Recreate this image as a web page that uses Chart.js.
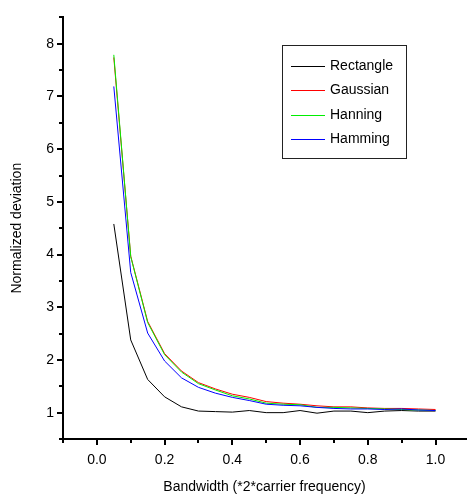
<!DOCTYPE html>
<html>
<head>
<meta charset="utf-8">
<script src="https://cdn.jsdelivr.net/npm/chart.js@4.4.1/dist/chart.umd.min.js"></script>
<style>
html, body { margin: 0; padding: 0; background: #fff; }
</style>
</head>
<body>
<canvas id="lineChart" width="467" height="504"></canvas>
<script>
// data
var bandwidth = [0.05, 0.10, 0.15, 0.20, 0.25, 0.30, 0.35, 0.40, 0.45, 0.50,
                 0.55, 0.60, 0.65, 0.70, 0.75, 0.80, 0.85, 0.90, 0.95, 1.00];
var rectangle = [4.58, 2.38, 1.63, 1.30, 1.11, 1.03, 1.02, 1.01, 1.04, 1.00,
                 1.00, 1.04, 0.99, 1.03, 1.03, 1.00, 1.03, 1.04, 1.03, 1.03];
var gaussian  = [7.74, 3.97, 2.73, 2.12, 1.79, 1.57, 1.45, 1.35, 1.29, 1.21,
                 1.18, 1.16, 1.13, 1.11, 1.11, 1.09, 1.08, 1.08, 1.07, 1.06];
var hanning   = [7.79, 3.96, 2.71, 2.10, 1.77, 1.55, 1.43, 1.32, 1.26, 1.18,
                 1.16, 1.15, 1.10, 1.10, 1.09, 1.08, 1.07, 1.06, 1.05, 1.04];
var hamming   = [7.19, 3.66, 2.51, 1.98, 1.66, 1.48, 1.37, 1.29, 1.23, 1.16,
                 1.14, 1.13, 1.10, 1.08, 1.07, 1.07, 1.06, 1.07, 1.05, 1.04];
var seriesNames = ['Rectangle', 'Gaussian', 'Hanning', 'Hamming'];

var xMajorTicks = [0.0, 0.2, 0.4, 0.6, 0.8, 1.0];
var xMinorTicks = [-0.1, 0.1, 0.3, 0.5, 0.7, 0.9];
var yMajorTicks = [1, 2, 3, 4, 5, 6, 7, 8];
var yMinorTicks = [0.5, 1.5, 2.5, 3.5, 4.5, 5.5, 6.5, 7.5, 8.5];

var FONT = "'Liberation Sans', Arial, sans-serif";

function isIn(list, v) {
	for (var i = 0; i < list.length; i++) {
		if (Math.abs(list[i] - v) < 1e-6) return true;
	}
	return false;
}

function points(ys) {
	return bandwidth.map(function(x, i) { return {x: x, y: ys[i]}; });
}

// short/long tick marks drawn outward from the axes
var axisTicks = {
	id: 'axisTicks',
	afterDraw: function(chart) {
		var ctx = chart.ctx, area = chart.chartArea;
		var xs = chart.scales.x, ys = chart.scales.y;
		ctx.save();
		ctx.strokeStyle = '#000';
		ctx.lineWidth = 2;
		xs.ticks.forEach(function(t) {
			var px = Math.round(xs.getPixelForValue(t.value));
			var len = isIn(xMajorTicks, t.value) ? 6 : 4;
			ctx.beginPath();
			ctx.moveTo(px, area.bottom);
			ctx.lineTo(px, area.bottom + len);
			ctx.stroke();
		});
		ys.ticks.forEach(function(t) {
			var py = Math.round(ys.getPixelForValue(t.value));
			var len = isIn(yMajorTicks, t.value) ? 6 : 4;
			ctx.beginPath();
			ctx.moveTo(area.left, py);
			ctx.lineTo(area.left - len, py);
			ctx.stroke();
		});
		ctx.restore();
	}
};

// boxed legend inside the plot, like the original
var boxLegend = {
	id: 'boxLegend',
	afterDraw: function(chart) {
		var ctx = chart.ctx;
		var bx = 282, by = 45, bw = 124, bh = 113;
		ctx.save();
		ctx.fillStyle = '#fff';
		ctx.fillRect(bx, by, bw, bh);
		ctx.strokeStyle = '#222';
		ctx.lineWidth = 1;
		ctx.strokeRect(bx + 0.5, by + 0.5, bw, bh);
		ctx.font = '14px ' + FONT;
		ctx.textBaseline = 'middle';
		chart.data.datasets.forEach(function(ds, i) {
			var y = Math.round(66 + i * 24.4) + 0.5;
			ctx.strokeStyle = ds.borderColor;
			ctx.beginPath();
			ctx.moveTo(291, y);
			ctx.lineTo(325, y);
			ctx.stroke();
			ctx.fillStyle = '#000';
			ctx.fillText(ds.label, 330, y);
		});
		ctx.restore();
	}
};

document.addEventListener('DOMContentLoaded', function() {
	var ctx = document.getElementById('lineChart').getContext('2d');
	var lineChart = new Chart(ctx, {
		type: 'line',
		data: {
			datasets: [
				{label: seriesNames[0], data: points(rectangle), borderColor: '#000000', order: 4},
				{label: seriesNames[1], data: points(gaussian), borderColor: '#ff0000', order: 3},
				{label: seriesNames[2], data: points(hanning), borderColor: '#00ee00', order: 2},
				{label: seriesNames[3], data: points(hamming), borderColor: '#0000ff', order: 1}
			]
		},
		options: {
			responsive: false,
			animation: false,
			devicePixelRatio: 1,
			layout: { padding: { left: 0, right: 1, top: 12, bottom: 0 } },
			elements: {
				line: { borderWidth: 1, tension: 0, fill: false },
				point: { radius: 0 }
			},
			plugins: {
				legend: { display: false },
				tooltip: { enabled: false }
			},
			scales: {
				x: {
					type: 'linear',
					min: -0.1,
					max: 1.09,
					afterBuildTicks: function(scale) {
						scale.ticks = xMinorTicks.concat(xMajorTicks).sort(function(a, b) { return a - b; })
							.map(function(v) { return {value: v}; });
					},
					afterFit: function(scale) { scale.height = 65; },
					grid: { drawOnChartArea: false, drawTicks: false },
					border: { display: true, color: '#000', width: 2 },
					ticks: {
						autoSkip: false,
						maxRotation: 0,
						padding: 13,
						color: '#000',
						font: { family: FONT, size: 14 },
						callback: function(v) { return isIn(xMajorTicks, v) ? v.toFixed(1) : ''; }
					},
					title: {
						display: true,
						text: 'Bandwidth (*2*carrier frequency)',
						color: '#000',
						font: { family: FONT, size: 14 },
						padding: { top: 0, bottom: 8 }
					}
				},
				y: {
					type: 'linear',
					min: 0.5,
					max: 8.5,
					afterBuildTicks: function(scale) {
						scale.ticks = yMinorTicks.concat(yMajorTicks).sort(function(a, b) { return a - b; })
							.map(function(v) { return {value: v}; });
					},
					afterFit: function(scale) { scale.width = 63; },
					grid: { drawOnChartArea: false, drawTicks: false },
					border: { display: true, color: '#000', width: 2 },
					ticks: {
						autoSkip: false,
						padding: 9,
						color: '#000',
						font: { family: FONT, size: 14 },
						callback: function(v) { return isIn(yMajorTicks, v) ? String(v) : ''; }
					},
					title: {
						display: true,
						text: 'Normalized deviation',
						color: '#000',
						font: { family: FONT, size: 14 },
						padding: { top: 9, bottom: 0 }
					}
				}
			}
		},
		plugins: [axisTicks, boxLegend]
	});
});
</script>
</body>
</html>
